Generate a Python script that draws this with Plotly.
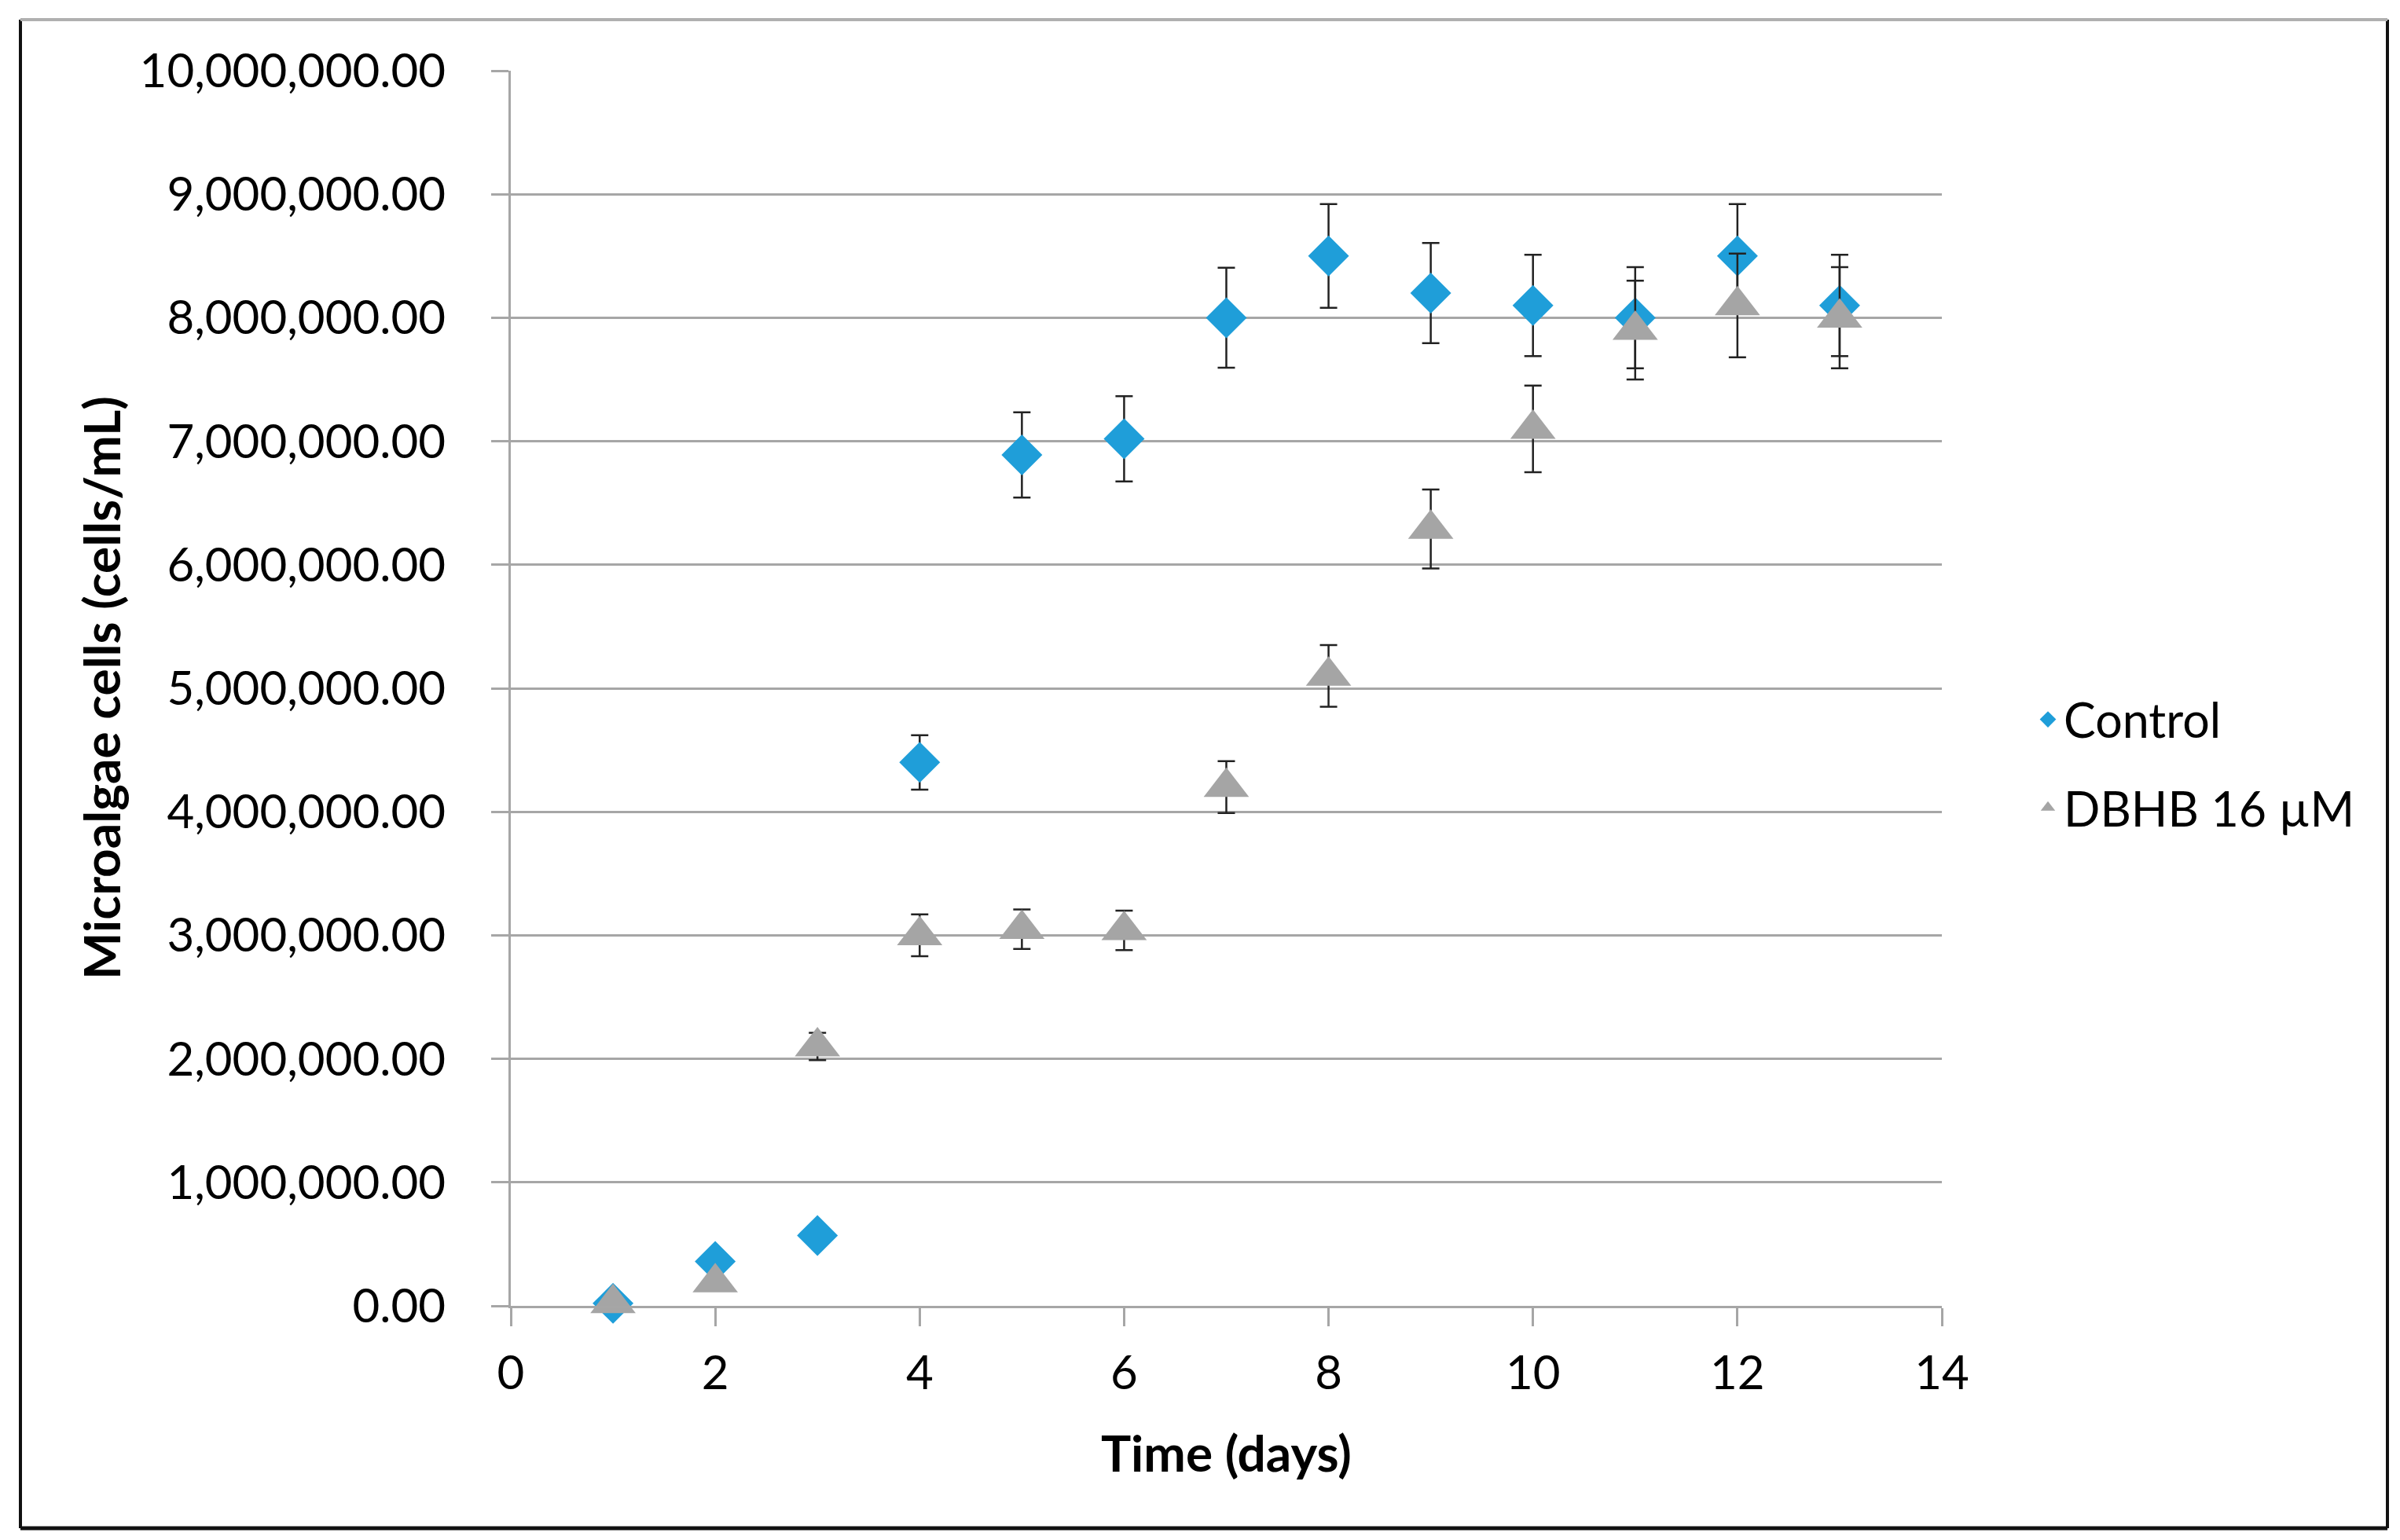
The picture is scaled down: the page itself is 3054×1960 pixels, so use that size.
import plotly.graph_objects as go

days = [1, 2, 3, 4, 5, 6, 7, 8, 9, 10, 11, 12, 13]
control = [20000, 360000, 570000, 4400000, 6890000, 7020000, 8000000,
           8500000, 8200000, 8100000, 8000000, 8500000, 8100000]
control_err = [10000, 30000, 40000, 220000, 345000, 345000, 405000,
               420000, 405000, 410000, 410000, 420000, 410000]
dbhb = [20000, 190000, 2100000, 3000000, 3050000, 3040000, 4200000,
        5100000, 6290000, 7100000, 7900000, 8100000, 8000000]
dbhb_err = [10000, 30000, 110000, 170000, 160000, 160000, 210000,
            250000, 320000, 350000, 400000, 420000, 410000]

x_ticks = [0, 2, 4, 6, 8, 10, 12, 14]
y_ticks = [0, 1000000, 2000000, 3000000, 4000000, 5000000,
           6000000, 7000000, 8000000, 9000000, 10000000]

FONT = "Lato"
GRID = "#a6a6a6"

fig = go.Figure()
fig.add_trace(go.Scatter(
    x=days, y=control, mode="markers", name="Control",
    marker=dict(symbol="diamond", size=40, color="#1f9ed9", line=dict(width=0)),
    error_y=dict(type="data", array=control_err, visible=True,
                 color="#222222", thickness=2.5, width=11),
    cliponaxis=False, legendgroup="a",
))
fig.add_trace(go.Scatter(
    x=days, y=dbhb, mode="markers", name="DBHB 16 µM",
    marker=dict(symbol="triangle-up", size=50, color="#a5a5a5", line=dict(width=0)),
    error_y=dict(type="data", array=dbhb_err, visible=True,
                 color="#222222", thickness=2.5, width=11),
    cliponaxis=False, legendgroup="b",
))

L, R, T, B = 642, 3054 - 2463, 82, 1960 - 1654
W, H = 3054, 1960
pw, ph = W - L - R, H - T - B


def px(xp):
    return (xp - L) / pw


def py(yp):
    return (H - B - yp) / ph


fig.update_layout(
    width=W, height=H,
    margin=dict(l=L, r=R, t=T, b=B, autoexpand=False),
    paper_bgcolor="white", plot_bgcolor="white",
    font=dict(family=FONT, size=60, color="black"),
    showlegend=True,
    legend=dict(x=px(2578), xanchor="left", y=0.439, yanchor="middle",
                font=dict(family=FONT, size=61, color="black"),
                tracegroupgap=30, bgcolor="rgba(0,0,0,0)"),
    xaxis=dict(range=[0, 14], tickvals=x_ticks, ticktext=[str(v) for v in x_ticks],
               showgrid=False, zeroline=False, showline=True, linecolor=GRID, linewidth=3,
               ticks="outside", ticklen=23, tickwidth=3, tickcolor=GRID,
               tickfont=dict(family=FONT, size=60, color="black"),
               ticklabelstandoff=8),
    yaxis=dict(range=[0, 10000000], tickvals=y_ticks, tickformat=",.2f",
               showgrid=True, gridcolor=GRID, gridwidth=3, zeroline=False,
               showline=True, linecolor=GRID, linewidth=3,
               ticks="outside", ticklen=22, tickwidth=3, tickcolor=GRID,
               tickfont=dict(family=FONT, size=60, color="black"),
               ticklabelstandoff=46),
    annotations=[
        dict(text="<b>Time (days)</b>", xref="paper", yref="paper",
             x=0.5, y=py(1840), xanchor="center", yanchor="middle", showarrow=False,
             font=dict(family=FONT, size=64, color="black")),
        dict(text="<b>Microalgae cells (cells/mL)</b>", xref="paper", yref="paper",
             x=px(120), y=0.5, xanchor="center", yanchor="middle", showarrow=False,
             textangle=-90, font=dict(family=FONT, size=64, color="black")),
    ],
    shapes=[
        dict(type="line", xref="paper", yref="paper", x0=px(18), x1=px(18),
             y0=py(17), y1=py(1937), line=dict(color="#111111", width=4)),
        dict(type="line", xref="paper", yref="paper", x0=px(3030), x1=px(3030),
             y0=py(17), y1=py(1937), line=dict(color="#111111", width=4)),
        dict(type="line", xref="paper", yref="paper", x0=px(18), x1=px(3030),
             y0=py(1937), y1=py(1937), line=dict(color="#111111", width=5)),
        dict(type="line", xref="paper", yref="paper", x0=px(18), x1=px(3030),
             y0=py(17), y1=py(17), line=dict(color="#b0b0b0", width=4)),
    ],
)

fig.write_html("out.html")
